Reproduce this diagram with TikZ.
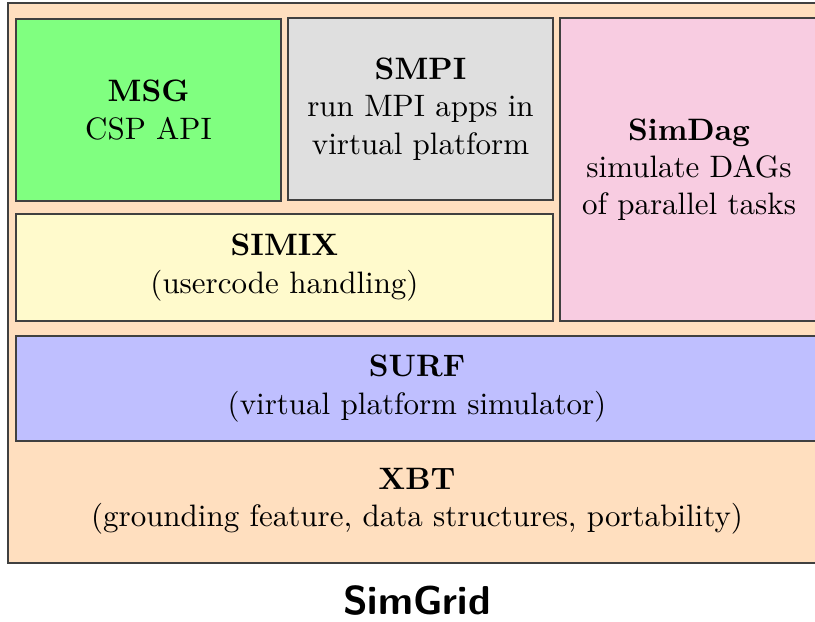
\documentclass[tikz,border=0pt]{standalone}
\usepackage{tikz}

\definecolor{xbtcol}{RGB}{255,223,191}
\definecolor{msgcol}{RGB}{128,255,128}
\definecolor{smpicol}{RGB}{223,223,223}
\definecolor{dagcol}{RGB}{248,204,225}
\definecolor{simixcol}{RGB}{255,250,204}
\definecolor{surfcol}{RGB}{191,191,255}

\tikzset{
  layer/.style={draw=black!75, line width=0.4pt, inner sep=0pt, align=center},
}

\begin{document}
\begin{tikzpicture}[x=0.3226pt, y=-0.3226pt]
    \useasboundingbox (0,0) rectangle (815,621);

    % Whole toolkit (XBT at the bottom)
    \node[layer, fill=xbtcol, minimum width=263.9pt, minimum height=180.7pt] (simgrid) at (417,283) {};
    \node[align=center] (xbt) at (417,501) {\textbf{XBT}\\(grounding feature, data structures, portability)};

    % Upper layers
    \node[layer, fill=msgcol, minimum width=85.5pt, minimum height=58.7pt] (msg) at (148.5,110) {\textbf{MSG}\\CSP API};
    \node[layer, fill=smpicol, minimum width=85.5pt, minimum height=58.7pt] (smpi) at (420.5,109) {\textbf{SMPI}\\run MPI apps in\\virtual platform};
    \node[layer, fill=dagcol, minimum width=83.2pt, minimum height=97.7pt] (simdag) at (689,169.5) {\textbf{SimDag}\\simulate DAGs\\of parallel tasks};

    % Middle layers
    \node[layer, fill=simixcol, minimum width=173.2pt, minimum height=34.5pt] (simix) at (284.5,267.5) {\textbf{SIMIX}\\(usercode handling)};
    \node[layer, fill=surfcol, minimum width=258.7pt, minimum height=33.9pt] (surf) at (417,388.5) {\textbf{SURF}\\(virtual platform simulator)};

    % Title
    \node[font=\fontsize{13}{15}\selectfont\sffamily\bfseries] (title) at (417,601) {SimGrid};
\end{tikzpicture}
\end{document}
